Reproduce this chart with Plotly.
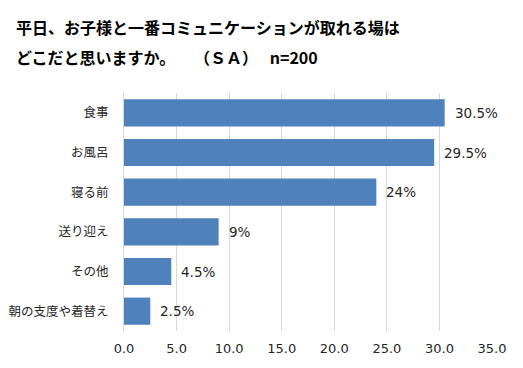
import plotly.graph_objects as go

categories = ["食事", "お風呂", "寝る前", "送り迎え", "その他", "朝の支度や着替え"]
values = [30.5, 29.5, 24, 9, 4.5, 2.5]
value_labels = ["30.5%", "29.5%", "24%", "9%", "4.5%", "2.5%"]
x_ticks = [0, 5, 10, 15, 20, 25, 30, 35]
x_tick_labels = ["0.0", "5.0", "10.0", "15.0", "20.0", "25.0", "30.0", "35.0"]
title_line1 = "平日、お子様と一番コミュニケーションが取れる場は"
title_line2 = "どこだと思いますか。　 \u00a0\u00a0（ＳＡ）　 n=200"

FONT = "DejaVu Sans, Noto Sans CJK JP, sans-serif"

fig = go.Figure(go.Bar(
    x=values, y=categories, orientation="h",
    marker=dict(color="#4f81bd", line=dict(width=0)),
    width=0.685,
))

for v, c, t in zip(values, categories, value_labels):
    fig.add_annotation(x=v, y=c, text=t, showarrow=False, xanchor="left",
                       xshift=8, font=dict(family=FONT, size=13.5, color="#262626"))

fig.add_annotation(x=-0.299, y=1.277, xref="paper", yref="paper", text="<b>" + title_line1 + "</b>",
                   showarrow=False, xanchor="left", yanchor="middle",
                   font=dict(family="Noto Sans CJK JP, sans-serif", size=16, color="#000000"))
fig.add_annotation(x=-0.299, y=1.151, xref="paper", yref="paper", text="<b>" + title_line2 + "</b>",
                   showarrow=False, xanchor="left", yanchor="middle",
                   font=dict(family="Noto Sans CJK JP, sans-serif", size=16, color="#000000"))

fig.update_layout(
    width=523, height=368,
    margin=dict(l=116, r=39, t=85, b=45, autoexpand=False),
    plot_bgcolor="white", paper_bgcolor="white",
    showlegend=False,
    xaxis=dict(range=[0, 35], tickvals=x_ticks, ticktext=x_tick_labels,
               showgrid=True, gridcolor="#d9d9d9", gridwidth=1,
               zeroline=False, showline=False, ticks="", automargin=False,
               ticklabelstandoff=8,
               tickfont=dict(family=FONT, size=13, color="#262626")),
    yaxis=dict(autorange="reversed", showgrid=False, zeroline=False,
               showline=True, linecolor="#d9d9d9", linewidth=1, ticks="", automargin=False,
               ticklabelstandoff=12,
               tickfont=dict(family="Noto Sans CJK JP, sans-serif", size=12.5, color="#262626")),
)

fig.write_html("out.html")
